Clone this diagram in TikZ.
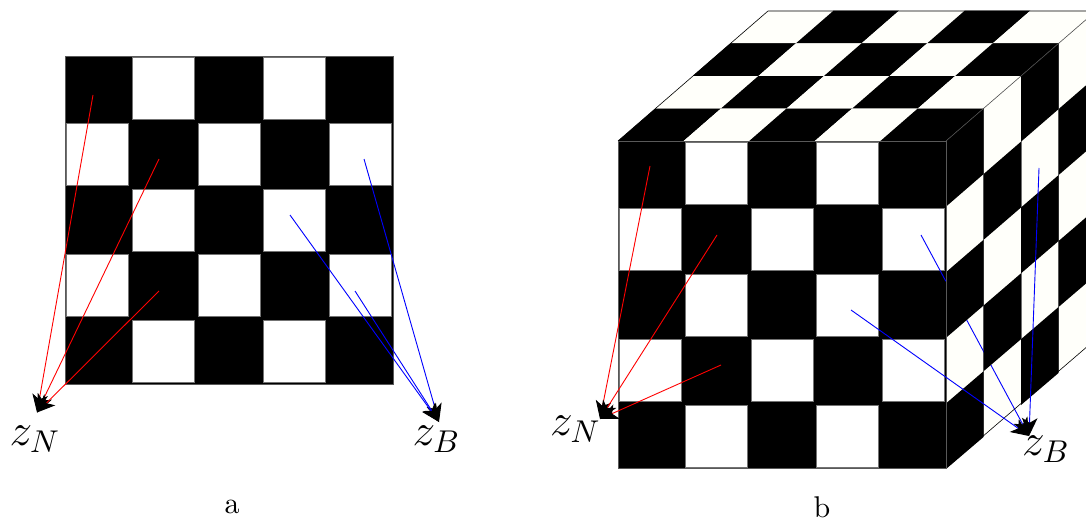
\documentclass[tikz,border=0pt]{standalone}
\usetikzlibrary{arrows.meta,calc}
\definecolor{ivory}{HTML}{FFFFFA}
\tikzset{
  rayN/.style={red,line width=0.3pt,-{Stealth[black,length=6pt,width=5.2pt,inset=1.6pt]}},
  rayB/.style={blue,line width=0.3pt,-{Stealth[black,length=6pt,width=5.2pt,inset=1.6pt]}},
  board/.style={fill=black,draw=black!65,line width=0.33pt},
  whitecell/.style={fill=white,draw=black!55,line width=0.33pt},
  hair/.style={black,line width=0.2pt},
  lbl/.style={inner sep=0pt,font=\Large,scale=1.05},
  captext/.style={inner sep=0pt}
}
\begin{document}
\begin{tikzpicture}[x=0.33333pt,y=-0.33333pt]
\useasboundingbox (0,0) rectangle (1086,519);
\def\cw{65.6}
% ---- panel a ----
\draw[board] (65,56) rectangle (393,384);
\foreach \r in {0,...,4}{\foreach \c in {0,...,4}{
  \pgfmathparse{int(mod(\r+\c,2))}
  \ifnum\pgfmathresult=1
    \pgfmathsetmacro\xa{65+\c*\cw+1.8}
    \pgfmathsetmacro\ya{56+\r*\cw+1.8}
    \draw[whitecell] (\xa,\ya) rectangle (\xa+\cw-3.6,\ya+\cw-3.6);
  \fi
}}
\coordinate (aN) at (37,412.5);
\coordinate (aB) at (439,422);
\coordinate (a1) at (93,95);
\coordinate (a2) at (159,159);
\coordinate (a3) at (159,291);
\coordinate (a4) at (364,159);
\coordinate (a5) at (290,215);
\coordinate (a6) at (355,291);
\draw[rayN] (a1) -- (aN);
\draw[rayN] (a2) -- (aN);
\draw[rayN] (a3) -- (aN);
\draw[rayB] (a4) -- (aB);
\draw[rayB] (a5) -- (aB);
\draw[rayB] (a6) -- (aB);
\node[lbl] (zNa) at (35,439) {$z_N$};
\node[lbl] (zBa) at (436.5,439) {$z_B$};
\node[captext] (capa) at (232,507) {a};
% ---- panel b ----
\def\dx{37.5}
% top face
\foreach \r in {0,...,3}{\foreach \c in {0,...,4}{
  \pgfmathparse{int(mod(\r+\c,2))}
  \ifnum\pgfmathresult=1 \def\cc{ivory}\else \def\cc{black}\fi
  \pgfmathsetmacro\xa{618+\c*\cw+\r*\dx}
  \pgfmathsetmacro\ya{141-\r*32.6}
  \fill[\cc] (\xa,\ya) -- (\xa+\cw,\ya) -- (\xa+\cw+\dx,\ya-32.6) -- (\xa+\dx,\ya-32.6) -- cycle;
}}
\draw[hair] (618,141) -- (768,11) -- (1100,11);
% right face, light cells
\fill[ivory] (946,141) -- (1096,11) -- (1096,340) -- (946,468) -- cycle;
\foreach \c in {1,...,3}{
  \pgfmathsetmacro\xa{946+\c*\dx}
  \pgfmathsetmacro\ya{141-\c*32.6}
  \pgfmathsetmacro\yb{468-\c*32}
  \draw[black!50,line width=0.33pt] (\xa,\ya) -- (\xa,\yb);
}
\coordinate (bB) at (1029,436);
\coordinate (b4) at (921,235);
\draw[rayB] (b4) -- (bB);
% right face, dark cells
\foreach \r in {0,...,4}{\foreach \c in {0,...,3}{
  \pgfmathparse{int(mod(\r+\c,2))}
  \ifnum\pgfmathresult=0
    \pgfmathsetmacro\xa{946+\c*\dx}
    \pgfmathsetmacro\sa{32.6-0.12*\r}
    \pgfmathsetmacro\sb{32.6-0.12*(\r+1)}
    \pgfmathsetmacro\ya{141+\r*\cw-\c*\sa}
    \pgfmathsetmacro\yb{141+(\r+1)*\cw-\c*\sb}
    \fill[black] (\xa,\ya) -- (\xa+\dx,\ya-\sa) -- (\xa+\dx,\yb-\sb) -- (\xa,\yb) -- cycle;
  \fi
}}
\draw[hair] (946,468) -- (1096,339);
\draw[black!70,line width=0.2pt] (946,141) -- (1096,11);
% front face
\draw[board] (618,141) rectangle (946,468);
\foreach \r in {0,...,4}{\foreach \c in {0,...,4}{
  \pgfmathparse{int(mod(\r+\c,2))}
  \ifnum\pgfmathresult=1
    \pgfmathsetmacro\xa{618+\c*\cw+1.8}
    \pgfmathsetmacro\ya{141+\r*\cw+1.8}
    \draw[whitecell] (\xa,\ya) rectangle (\xa+\cw-3.6,\ya+\cw-3.6);
  \fi
}}
\coordinate (bN) at (600,419);
\coordinate (b1) at (650,166);
\coordinate (b2) at (717,235);
\coordinate (b3) at (721,365);
\coordinate (b5) at (851,310);
\coordinate (b6) at (1039,168);
\draw[blue,line width=0.3pt] (b4) -- ($(b4)!0.23!(bB)$);
\draw[rayN] (b1) -- (bN);
\draw[rayN] (b2) -- (bN);
\draw[rayN] (b3) -- (bN);
\draw[rayB] (b5) -- (bB);
\draw[rayB] (b6) -- (bB);
\node[lbl] (zNb) at (575.5,429) {$z_N$};
\node[lbl] (zBb) at (1046,449) {$z_B$};
\node[captext] (capb) at (822,507) {b};
\end{tikzpicture}
\end{document}
